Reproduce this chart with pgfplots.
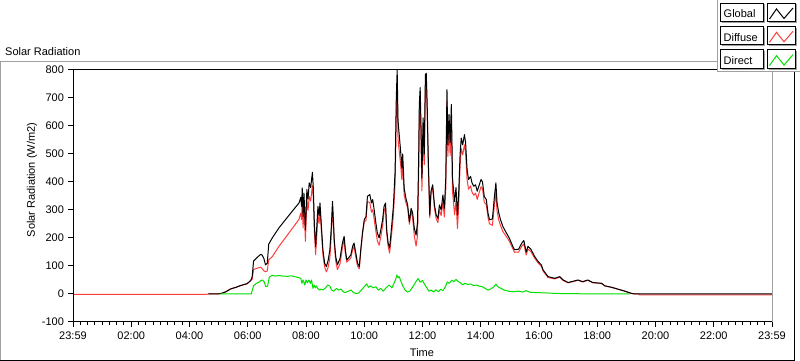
\documentclass[border=0pt]{standalone}
\usepackage{fontspec}
\setmainfont{Liberation Sans}
\usepackage{pgfplots}
\usepackage{pgfplotstable}
\pgfplotsset{compat=1.18}
\definecolor{lvred}{RGB}{255,60,60}
\definecolor{lvgreen}{RGB}{0,225,0}
\definecolor{framegray}{RGB}{160,160,160}

\pgfplotstableread{
h v
4.65 0
5.06 1
5.25 8
5.41 18
5.60 24
5.75 30
5.98 37
6.10 48
6.15 60
6.20 118
6.30 128
6.38 136
6.45 142
6.50 138
6.55 128
6.61 104
6.67 110
6.72 178
6.84 200
7.07 236
7.30 266
7.53 296
7.76 325
7.82 345
7.85 313
7.87 379
7.90 277
7.93 360
7.98 230
8.03 373
8.07 340
8.11 397
8.16 380
8.22 435
8.25 380
8.29 241
8.33 170
8.37 240
8.41 313
8.45 280
8.48 325
8.53 241
8.58 158
8.64 110
8.70 98
8.76 120
8.82 158
8.87 241
8.91 331
8.94 265
8.97 194
9.02 134
9.08 104
9.17 128
9.25 182
9.31 206
9.35 158
9.40 122
9.47 130
9.54 140
9.60 170
9.65 182
9.71 146
9.77 110
9.83 98
9.88 158
9.94 218
10.00 265
10.06 277
10.11 349
10.19 355
10.25 325
10.29 337
10.34 301
10.40 253
10.45 218
10.51 200
10.57 230
10.63 265
10.68 313
10.73 325
10.77 230
10.82 182
10.87 164
10.94 241
11.00 313
11.06 440
11.10 700
11.13 800
11.16 617
11.21 557
11.25 509
11.29 449
11.32 500
11.37 378
11.43 342
11.49 318
11.55 258
11.61 306
11.66 290
11.72 234
11.78 210
11.83 258
11.87 498
11.89 677
11.92 737
11.95 593
11.98 414
12.02 629
12.06 500
12.10 784
12.13 788
12.16 677
12.20 473
12.25 282
12.29 366
12.35 390
12.41 318
12.47 282
12.53 270
12.58 318
12.64 300
12.70 354
12.75 306
12.80 414
12.84 730
12.87 533
12.91 641
12.95 540
12.99 677
13.03 414
13.10 330
13.15 380
13.20 282
13.24 354
13.29 498
13.33 557
13.38 533
13.44 569
13.48 540
13.53 445
13.58 409
13.65 420
13.70 397
13.76 385
13.82 390
13.88 367
13.95 390
14.01 409
14.06 400
14.12 349
14.19 337
14.25 289
14.30 265
14.40 268
14.47 349
14.52 397
14.56 325
14.62 289
14.68 265
14.76 241
14.88 218
14.98 200
15.10 170
15.16 158
15.30 160
15.41 182
15.48 191
15.56 150
15.62 170
15.72 160
15.85 134
15.97 116
16.08 104
16.14 86
16.31 62
16.54 56
16.71 62
16.83 50
17.00 41
17.34 50
17.50 44
17.67 50
17.85 41
18.15 38
18.26 29
18.49 24
18.72 17
18.95 10
19.18 2
19.30 0
24.00 0
}\globaltab

\pgfplotstableread{
h v
0.00 -1
4.60 -1
4.65 0
5.06 1
5.25 8
5.41 18
5.60 24
5.75 30
5.98 37
6.10 48
6.15 52
6.20 88
6.30 91
6.38 94
6.45 95
6.50 90
6.55 83
6.61 80
6.67 82
6.72 122
6.84 133
7.07 170
7.30 202
7.53 234
7.76 267
7.82 289
7.85 266
7.87 338
7.90 236
7.93 315
7.98 188
8.03 341
8.07 299
8.11 349
8.16 332
8.22 387
8.25 346
8.29 219
8.33 140
8.37 209
8.41 284
8.45 252
8.48 300
8.53 221
8.58 141
8.64 96
8.70 79
8.76 96
8.82 129
8.87 213
8.91 310
8.94 249
8.97 180
9.02 118
9.08 87
9.17 109
9.25 165
9.31 193
9.35 147
9.40 114
9.47 121
9.54 129
9.60 158
9.65 169
9.71 132
9.77 99
9.83 90
9.88 152
9.94 216
10.00 258
10.06 263
10.11 330
10.19 327
10.25 292
10.29 301
10.34 268
10.40 223
10.45 190
10.51 174
10.57 205
10.63 243
10.68 295
10.73 310
10.77 218
10.82 170
10.87 146
10.94 214
11.00 281
11.06 394
11.10 639
11.13 735
11.16 553
11.21 501
11.25 461
11.29 409
11.32 465
11.37 353
11.43 327
11.49 307
11.55 249
11.61 297
11.66 272
11.72 206
11.78 171
11.83 210
11.87 443
11.89 624
11.92 685
11.95 544
11.98 368
12.02 587
12.06 462
12.10 750
12.13 757
12.16 652
12.20 455
12.25 272
12.29 356
12.35 379
12.41 306
12.47 269
12.53 255
12.58 301
12.64 280
12.70 328
12.75 275
12.80 377
12.84 690
12.87 491
12.91 597
12.95 495
12.99 632
13.03 368
13.10 283
13.15 333
13.20 234
13.24 309
13.29 457
13.33 519
13.38 497
13.44 533
13.48 504
13.53 409
13.58 374
13.65 386
13.70 364
13.76 353
13.82 360
13.88 338
13.95 363
14.01 383
14.06 376
14.12 328
14.19 319
14.25 273
14.30 251
14.40 245
14.47 319
14.52 363
14.56 295
14.62 264
14.68 244
14.76 223
14.88 205
14.98 189
15.10 162
15.16 149
15.30 150
15.41 171
15.48 179
15.56 139
15.62 160
15.72 152
15.85 128
15.97 111
16.08 99
16.14 82
16.31 59
16.54 54
16.71 60
16.83 48
17.00 40
17.34 49
17.50 43
17.67 49
17.85 40
18.15 38
18.26 29
18.49 24
18.72 17
18.95 10
19.18 2
19.30 0
19.42 0
19.45 -3
24.00 -3
}\diffusetab

\pgfplotstableread{
h v
5.06 0
6.12 0
6.20 30
6.30 38
6.38 42
6.45 48
6.50 50
6.56 44
6.62 26
6.68 28
6.74 60
6.84 67
6.95 64
7.07 66
7.20 64
7.36 63
7.50 65
7.60 62
7.70 60
7.82 56
7.86 38
7.90 50
7.96 32
8.00 50
8.05 40
8.10 50
8.15 38
8.19 50
8.24 20
8.28 32
8.32 22
8.36 29
8.40 20
8.47 14
8.52 18
8.57 14
8.65 20
8.75 32
8.82 28
8.88 14
8.95 10
9.05 20
9.12 14
9.20 18
9.28 8
9.35 5
9.45 10
9.55 14
9.62 6
9.70 2
9.80 3
9.90 14
10.00 26
10.08 36
10.15 24
10.22 29
10.30 22
10.40 26
10.48 14
10.56 20
10.65 10
10.75 22
10.85 32
10.95 22
11.03 40
11.08 53
11.12 68
11.16 58
11.20 62
11.26 45
11.32 30
11.40 14
11.48 7
11.56 10
11.63 20
11.70 31
11.78 45
11.85 55
11.92 42
12.00 48
12.08 33
12.15 22
12.22 10
12.30 14
12.38 7
12.46 15
12.55 8
12.62 17
12.70 12
12.78 25
12.85 43
12.92 38
13.00 49
13.08 44
13.15 52
13.22 45
13.30 40
13.38 33
13.46 38
13.55 34
13.65 36
13.75 30
13.85 32
13.95 28
14.05 26
14.15 20
14.25 14
14.35 18
14.45 26
14.52 35
14.60 25
14.70 20
14.80 14
14.95 10
15.10 8
15.30 10
15.45 7
15.55 12
15.70 6
15.90 5
16.20 4
16.60 2
17.20 1
18.00 0.5
19.12 0
}\directtab

\begin{document}
\begin{tikzpicture}[font=\fontsize{11}{13}\selectfont]
\useasboundingbox (0,0) rectangle (800pt,361pt);
\fill[white] (0,0) rectangle (800pt,361pt);
% outer frame
\draw[framegray, line width=1pt] (0.5pt,0pt) -- (0.5pt,299pt) -- (717pt,299pt);
\draw[black, line width=1pt] (0pt,0.5pt) -- (794.5pt,0.5pt) -- (794.5pt,289pt);
\node[anchor=base west, inner sep=0pt] at (5pt,305.5pt) {Solar Radiation};

\begin{axis}[
  name=ax,
  at={(73pt,39pt)}, anchor=south west,
  scale only axis, width=699pt, height=252pt,
  xmin=0, xmax=24, ymin=-100, ymax=800,
  xtick={0,2,...,24},
  xticklabels={23:59,02:00,04:00,06:00,08:00,10:00,12:00,14:00,16:00,18:00,20:00,22:00,23:59},
  minor x tick num=7,
  ytick={-100,0,100,200,300,400,500,600,700,800},
  tick align=outside, xtick pos=bottom, ytick pos=left,
  major tick length=5pt, minor tick length=3pt,
  tick style={black, line width=1pt},
  axis line style={draw=none},
  /pgf/number format/assume math mode=true,
  tick label style={font=\fontsize{11}{13}\selectfont},
  xticklabel style={anchor=base, yshift=-12pt},
  yticklabel style={anchor=east, xshift=-0.5pt},
  clip=true,
  every axis plot/.append style={line width=1pt, line join=round, no markers},
]
\addplot[lvred] table[x=h,y=v] {\diffusetab};
\addplot[black] table[x=h,y=v] {\globaltab};
\addplot[lvgreen] table[x=h,y=v] {\directtab};
\end{axis}
\draw[black, line width=1pt] (ax.south west) -- (ax.north west) -- (ax.north east);
\draw[black, line width=1pt] (ax.south west) -- (ax.south east);
\draw[framegray, line width=1pt] (ax.north east) -- (ax.south east);
\node[rotate=90, anchor=base] at (35pt,181pt) {Solar Radiation (W/m2)};
\node[anchor=base] at (422pt,4.5pt) {Time};

% legend
\fill[white] (717pt,289pt) rectangle (800pt,361pt);
\draw[framegray, line width=1pt] (717pt,361pt) -- (717pt,289pt) -- (800pt,289pt);
\foreach \yy/\txt/\col in {0/Global/black, 23.3/Diffuse/lvred, 46.6/Direct/lvgreen}{
  \draw[framegray, line width=1pt] (721.7pt,{338.3pt-\yy pt}) -- (764.3pt,{338.3pt-\yy pt}) -- (764.3pt,{356.7pt-\yy pt});
  \draw[framegray, line width=1pt] (768.7pt,{338.3pt-\yy pt}) -- (796pt,{338.3pt-\yy pt}) -- (796pt,{356.7pt-\yy pt});
  \draw[black, line width=1pt] (720.7pt,{339.3pt-\yy pt}) rectangle (763.3pt,{357.7pt-\yy pt});
  \draw[black, line width=1pt] (767.7pt,{339.3pt-\yy pt}) rectangle (795pt,{357.7pt-\yy pt});
  \node[anchor=base west, inner sep=0pt] at (723.5pt,{343pt-\yy pt}) {\txt};
  \draw[\col, line width=1pt] (769.5pt,{342pt-\yy pt}) -- (776.5pt,{352pt-\yy pt}) -- (784pt,{342.5pt-\yy pt}) -- (793pt,{353pt-\yy pt});
}
\end{tikzpicture}
\end{document}
